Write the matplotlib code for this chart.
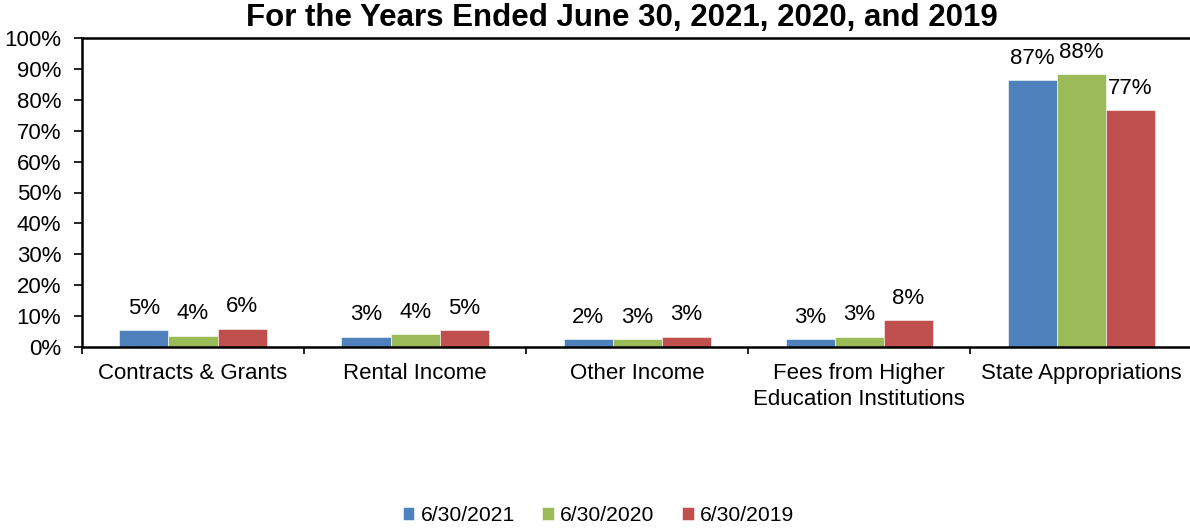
import matplotlib
matplotlib.use("Agg")
import matplotlib.pyplot as plt
import numpy as np
from matplotlib.ticker import FixedLocator, PercentFormatter

plt.rcParams['font.family'] = ['Liberation Sans', 'DejaVu Sans']

categories = ["Contracts & Grants", "Rental Income", "Other Income",
              "Fees from Higher\nEducation Institutions", "State Appropriations"]
series_names = ["6/30/2021", "6/30/2020", "6/30/2019"]
v2021 = [5.3, 3.3, 2.4, 2.6, 86.6]
v2020 = [3.6, 4.0, 2.6, 3.3, 88.3]
v2019 = [5.9, 5.3, 3.3, 8.5, 76.7]
colors = ["#4F81BD", "#9BBB59", "#C0504D"]

fig = plt.figure(figsize=(11.9, 5.29), dpi=100)
ax = fig.add_axes([82/1190, 1-346.7/529, 1-82/1190 + 0.002, (346.7-38.3)/529])

x = np.arange(len(categories))
w = 0.221
for i, (vals, name, c) in enumerate(zip([v2021, v2020, v2019], series_names, colors)):
    bars = ax.bar(x + (i-1)*w, vals, width=w, color=c, label=name, edgecolor='white', linewidth=0.4)
    for b, v in zip(bars, vals):
        ax.annotate(f"{v:.0f}%", (b.get_x()+b.get_width()/2, v), xytext=(0, 8),
                    textcoords='offset points', ha='center', va='bottom', fontsize=16)

ax.set_xlim(-0.5, 4.5)
ax.set_ylim(0, 100)
ax.yaxis.set_major_locator(FixedLocator(np.arange(0, 101, 10)))
ax.yaxis.set_major_formatter(PercentFormatter(decimals=0))
ax.set_xticks(x)
ax.set_xticklabels(categories, fontsize=16, linespacing=1.3)
ax.set_xticks(np.arange(-0.5, 5, 1), minor=True)
ax.tick_params(axis='x', which='major', length=0, pad=12)
ax.tick_params(axis='x', which='minor', length=5, width=1.2, direction='out')
ax.tick_params(axis='y', labelsize=16, length=6, width=1.2, direction='out', pad=9)
for s in ['left', 'bottom', 'top']:
    ax.spines[s].set_linewidth(1.8)
ax.spines['right'].set_visible(False)

fig.text(0.523, 0.966, "For the Years Ended June 30, 2021, 2020, and 2019",
         ha='center', va='center', fontsize=22.5, fontweight='bold')

fig.legend(loc='center', bbox_to_anchor=(0.503, 0.026), ncol=3, frameon=False,
           fontsize=15.2, handlelength=0.55, handleheight=0.55, handletextpad=0.3,
           columnspacing=1.3)

fig.savefig("out.png", dpi=100)
